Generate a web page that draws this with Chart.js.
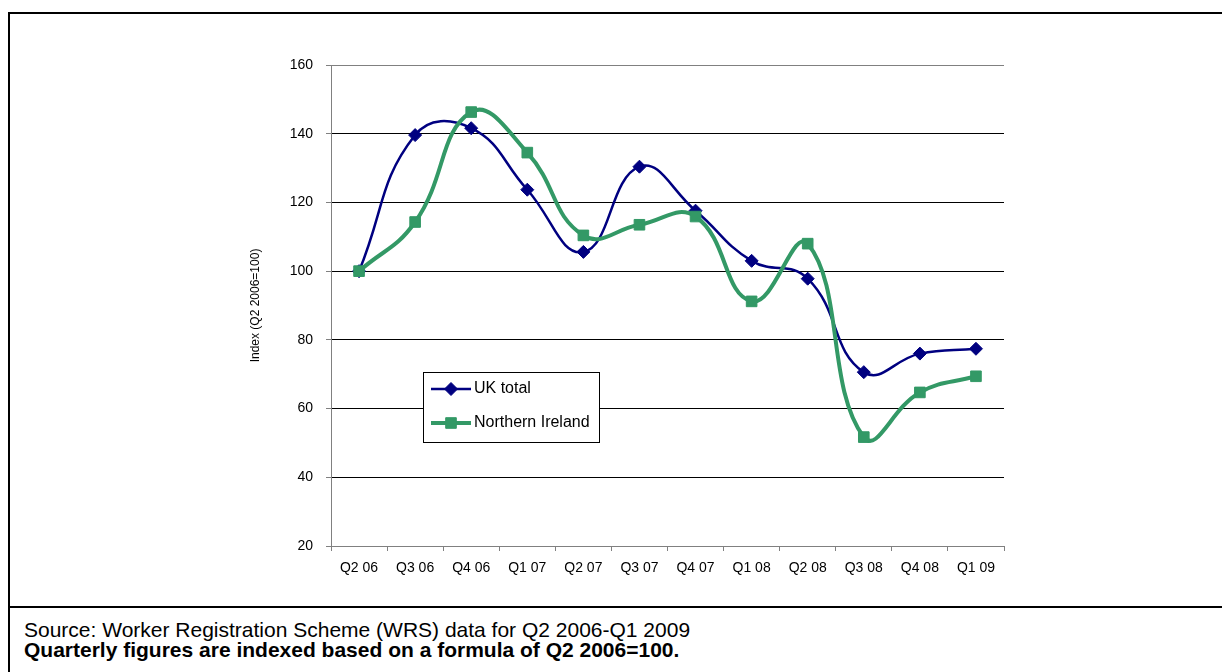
<!DOCTYPE html>
<html>
<head>
<meta charset="utf-8">
<script src="https://cdn.jsdelivr.net/npm/chart.js@4/dist/chart.umd.min.js"></script>
<style>
  html, body { margin: 0; padding: 0; background: #fff; }
  body { width: 1222px; height: 672px; position: relative; overflow: hidden; font-family: "Liberation Sans", Arial, sans-serif; }
  #frame { position: absolute; left: 8px; top: 12px; width: 1240px; height: 700px; border-left: 2px solid #000; border-top: 2px solid #000; }
  #sep { position: absolute; left: 8px; top: 606px; width: 1240px; border-top: 2px solid #000; }
  #wrap { position: absolute; left: 0; top: 0; width: 1222px; height: 600px; }
  #note { position: absolute; left: 24px; top: 620px; font-size: 21px; line-height: 20px; color: #000; white-space: nowrap; }
  #note b { font-weight: bold; }
</style>
</head>
<body>
<div id="frame"></div>
<div id="sep"></div>
<div id="wrap"><canvas id="wrsChart" width="1222" height="600"></canvas></div>
<div id="note">
  Source: Worker Registration Scheme (WRS) data for Q2 2006-Q1 2009<br>
  <b>Quarterly figures are indexed based on a formula of Q2 2006=100.</b>
</div>
<script>
  const quarters = ["Q2 06", "Q3 06", "Q4 06", "Q1 07", "Q2 07", "Q3 07", "Q4 07", "Q1 08", "Q2 08", "Q3 08", "Q4 08", "Q1 09"]
  const ukTotal = [100, 139.6, 141.6, 123.7, 105.6, 130.4, 117.6, 103, 97.8, 70.6, 76, 77.4]
  const northernIreland = [100, 114.3, 146.3, 134.5, 110.4, 113.5, 115.9, 91.2, 108, 51.7, 64.7, 69.4]
  const yTicks = [20, 40, 60, 80, 100, 120, 140, 160]

  const axisGrey = "#808080"
  const font = "'Liberation Sans', Arial, sans-serif"

  // Legend box sitting inside the plot, like the spreadsheet original
  const boxLegend = {
    id: "boxLegend",
    afterDraw(chart) {
      const ctx = chart.ctx
      const x = 423, y = 372, w = 176, h = 70
      ctx.save()
      ctx.fillStyle = "#fff"
      ctx.fillRect(x, y, w, h)
      ctx.strokeStyle = "#000"
      ctx.lineWidth = 1
      ctx.strokeRect(x + 0.5, y + 0.5, w, h)

      // UK first, then Northern Ireland
      const entries = [chart.data.datasets[1], chart.data.datasets[0]]
      entries.forEach((ds, i) => {
        const cy = y + 17 + i * 34
        ctx.strokeStyle = ds.borderColor
        ctx.lineWidth = ds.borderWidth
        ctx.beginPath()
        ctx.moveTo(x + 8, cy)
        ctx.lineTo(x + 48, cy)
        ctx.stroke()
        ctx.fillStyle = ds.pointBackgroundColor
        ctx.strokeStyle = ds.pointBorderColor
        ctx.lineWidth = 1
        Chart.helpers.drawPoint(ctx, { pointStyle: ds.pointStyle, radius: ds.pointRadius, rotation: 0, borderWidth: 1 }, x + 28, cy)
        ctx.fillStyle = "#000"
        ctx.font = "16px " + font
        ctx.textBaseline = "middle"
        ctx.fillText(ds.label, x + 51, cy)
      })
      ctx.restore()
    }
  }

  new Chart(document.getElementById("wrsChart"), {
    type: "line",
    data: {
      labels: quarters,
      datasets: [{
        label: "Northern Ireland",
        data: northernIreland,
        borderColor: "#339966",
        backgroundColor: "#339966",
        borderWidth: 4,
        pointStyle: "rect",
        pointRadius: 7.5,
        pointBackgroundColor: "#339966",
        pointBorderColor: "#339966",
        pointBorderWidth: 1,
        tension: 0.45
      }, {
        label: "UK total",
        data: ukTotal,
        borderColor: "#000080",
        backgroundColor: "#000080",
        borderWidth: 2.5,
        pointStyle: "rectRot",
        pointRadius: 6.5,
        pointBackgroundColor: "#000080",
        pointBorderColor: "#000080",
        pointBorderWidth: 1,
        tension: 0.45
      }]
    },
    options: {
      responsive: false,
      animation: false,
      layout: {
        padding: { left: 248, top: 65, right: 218, bottom: 14 }
      },
      plugins: {
        legend: { display: false },
        tooltip: { enabled: false }
      },
      scales: {
        x: {
          offset: true,
          afterFit: scale => { scale.height = 40 },
          grid: {
            offset: true,
            drawOnChartArea: false,
            tickLength: 5,
            tickColor: axisGrey
          },
          border: { color: axisGrey, width: 1 },
          ticks: {
            color: "#000",
            padding: 9,
            maxRotation: 0,
            autoSkip: false,
            font: { family: font, size: 14 }
          }
        },
        y: {
          min: 20,
          max: 160,
          afterFit: scale => { scale.width = 83 },
          afterBuildTicks: scale => { scale.ticks = yTicks.map(v => ({ value: v })) },
          grid: {
            color: ctx => (ctx.tick && ctx.tick.value === 160 ? axisGrey : "#000"),
            lineWidth: 1,
            tickLength: 5,
            tickColor: axisGrey
          },
          border: { color: axisGrey, width: 1 },
          title: {
            display: true,
            text: "Index (Q2 2006=100)",
            color: "#000",
            padding: 0,
            font: { family: font, size: 12 }
          },
          ticks: {
            color: "#000",
            padding: 13,
            font: { family: font, size: 14 }
          }
        }
      }
    },
    plugins: [boxLegend]
  })
</script>
</body>
</html>
